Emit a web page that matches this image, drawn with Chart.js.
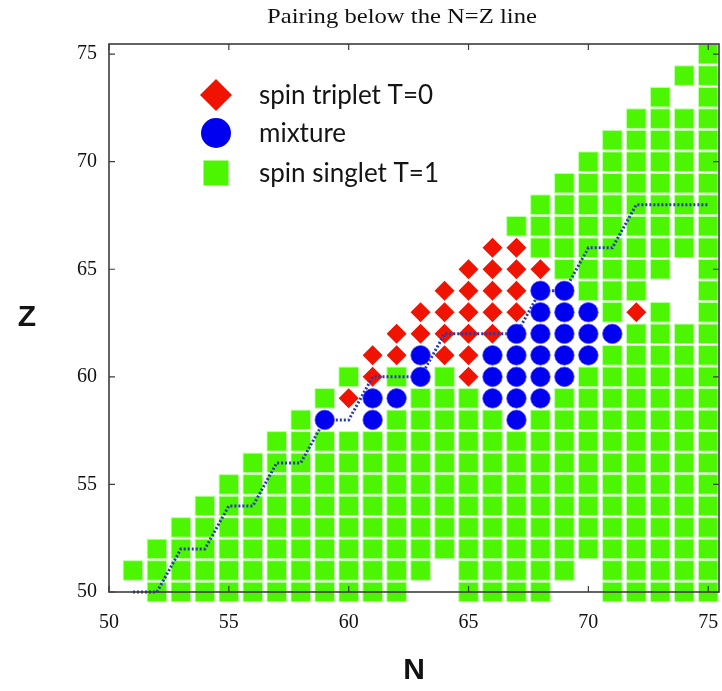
<!DOCTYPE html>
<html>
<head>
<meta charset="utf-8">
<script src="https://cdn.jsdelivr.net/npm/chart.js@4.4.0/dist/chart.umd.min.js"></script>
<style>
  html, body { margin: 0; padding: 0; background: #fff; }
  #wrap { width: 722px; height: 691px; }
</style>
</head>
<body>
<div id="wrap"><canvas id="pairing" width="722" height="691"></canvas></div>
<script>
// axis ticks
const xTicks = [50, 55, 60, 65, 70, 75];
const yTicks = [50, 55, 60, 65, 70, 75];

// spin triplet T=0 (red diamonds), [N, Z]
const tripletCells = [
  [60, 59],
  [61, 60], [65, 60],
  [61, 61], [62, 61], [64, 61], [65, 61],
  [62, 62], [63, 62], [64, 62], [65, 62], [66, 62],
  [63, 63], [64, 63], [65, 63], [66, 63], [67, 63], [72, 63],
  [64, 64], [65, 64], [66, 64], [67, 64],
  [65, 65], [66, 65], [67, 65], [68, 65],
  [66, 66], [67, 66]
];

// mixture (blue circles), [N, Z]
const mixtureCells = [
  [59, 58], [61, 58], [67, 58],
  [61, 59], [62, 59], [66, 59], [67, 59], [68, 59],
  [63, 60], [66, 60], [67, 60], [68, 60], [69, 60],
  [63, 61], [66, 61], [67, 61], [68, 61], [69, 61], [70, 61],
  [67, 62], [68, 62], [69, 62], [70, 62], [71, 62],
  [68, 63], [69, 63], [70, 63],
  [68, 64], [69, 64]
];

// spin singlet T=1 (green squares): runs of squares along each row, [Z, first N, last N]
const singletRuns = [
  [50, 52, 62], [50, 65, 68], [50, 71, 75],
  [51, 51, 63], [51, 65, 69], [51, 71, 75],
  [52, 52, 75],
  [53, 53, 75],
  [54, 54, 75],
  [55, 55, 75],
  [56, 56, 75],
  [57, 57, 75],
  [58, 58, 58], [58, 62, 66], [58, 68, 75],
  [59, 59, 59], [59, 63, 65], [59, 69, 75],
  [60, 60, 60], [60, 62, 62], [60, 64, 64], [60, 70, 75],
  [61, 71, 75],
  [62, 72, 75],
  [63, 71, 71], [63, 73, 73], [63, 75, 75],
  [64, 70, 72], [64, 75, 75],
  [65, 69, 73], [65, 75, 75],
  [66, 68, 75],
  [67, 67, 75],
  [68, 68, 75],
  [69, 69, 75],
  [70, 70, 75],
  [71, 71, 75],
  [72, 72, 75],
  [73, 73, 73], [73, 75, 75],
  [74, 74, 75],
  [75, 75, 75]
];

// dotted staircase line
const lineN = [51, 52, 53, 54, 55, 56, 57, 58, 59, 60, 61, 62, 63, 64, 65, 66, 67, 68, 69, 70, 71, 72, 73, 74, 75];
const lineZ = [50, 50, 52, 52, 54, 54, 56, 56, 58, 58, 60, 60, 60, 62, 62, 62, 62, 64, 64, 66, 66, 68, 68, 68, 68];

const legendItems = ['spin triplet T=0', 'mixture', 'spin singlet T=1'];
const chartTitle = 'Pairing below the N=Z line';

const GREEN = '#4cf500';
const RED = '#f01400';
const BLUE = '#0000f0';

const singletPts = [];
singletRuns.forEach(([z, a, b]) => {
  for (let n = a; n <= b; n++) singletPts.push({x: n, y: z});
});
const tripletPts = tripletCells.map(([n, z]) => ({x: n, y: z}));
const mixturePts = mixtureCells.map(([n, z]) => ({x: n, y: z}));
const linePts = lineN.map((n, i) => ({x: n, y: lineZ[i]}));

// frame with inward ticks, drawn over the marks
const framePlugin = {
  id: 'frame',
  afterDatasetsDraw(chart) {
    const {ctx, chartArea: a, scales: {x, y}} = chart;
    ctx.save();
    ctx.strokeStyle = '#3c3c3c';
    ctx.lineWidth = 1.6;
    ctx.strokeRect(a.left, a.top, a.right - a.left, a.bottom - a.top);
    ctx.lineWidth = 1.2;
    ctx.beginPath();
    xTicks.forEach(v => {
      const px = x.getPixelForValue(v);
      ctx.moveTo(px, a.bottom); ctx.lineTo(px, a.bottom - 6);
      ctx.moveTo(px, a.top); ctx.lineTo(px, a.top + 6);
    });
    yTicks.forEach(v => {
      const py = y.getPixelForValue(v);
      ctx.moveTo(a.left, py); ctx.lineTo(a.left + 6, py);
      ctx.moveTo(a.right, py); ctx.lineTo(a.right - 6, py);
    });
    ctx.stroke();
    ctx.restore();
  }
};

// title, legend inside the plot, upright Z label
const labelsPlugin = {
  id: 'labels',
  afterDraw(chart) {
    const ctx = chart.ctx;
    const mx = 216, tx = 259;
    const rows = [95, 133, 173];
    ctx.save();
    // title is slightly stretched sideways, like the source figure
    ctx.save();
    ctx.translate(402, 17);
    ctx.scale(1.12, 1);
    ctx.fillStyle = '#111';
    ctx.font = '22px "Liberation Serif"';
    ctx.textAlign = 'center';
    ctx.textBaseline = 'middle';
    ctx.fillText(chartTitle, 0, 0);
    ctx.restore();

    // diamond
    ctx.fillStyle = RED;
    ctx.beginPath();
    ctx.moveTo(mx, rows[0] - 16); ctx.lineTo(mx + 16, rows[0]);
    ctx.lineTo(mx, rows[0] + 16); ctx.lineTo(mx - 16, rows[0]);
    ctx.closePath(); ctx.fill();
    // circle
    ctx.fillStyle = BLUE;
    ctx.beginPath();
    ctx.arc(mx, rows[1], 15, 0, Math.PI * 2);
    ctx.fill();
    // square
    ctx.fillStyle = GREEN;
    ctx.fillRect(mx - 12.5, rows[2] - 12.5, 25, 25);

    ctx.fillStyle = '#141414';
    ctx.font = '26px Lato';
    ctx.textBaseline = 'middle';
    ctx.textAlign = 'left';
    legendItems.forEach((t, i) => ctx.fillText(t, tx, rows[i] + 1));

    ctx.font = 'bold 30px "Liberation Sans"';
    ctx.textAlign = 'center';
    ctx.fillText('Z', 27, 318);
    ctx.restore();
  }
};

// stop the scales from reserving room for the end labels
function noPad(s) {
  s.paddingLeft = 0; s.paddingRight = 0; s.paddingTop = 0; s.paddingBottom = 0;
}

const chart = new Chart(document.getElementById('pairing').getContext('2d'), {
  type: 'scatter',
  data: {
    datasets: [
      {
        label: 'mixture',
        data: mixturePts,
        pointStyle: 'circle',
        pointRadius: 9.8,
        backgroundColor: BLUE,
        borderColor: 'rgba(90,90,255,0.9)',
        borderWidth: 0.8,
        clip: false,
        order: 0
      },
      {
        label: 'staircase',
        data: linePts,
        showLine: true,
        pointRadius: 0,
        borderColor: '#2a36b8',
        borderWidth: 3,
        borderDash: [2, 2],
        fill: false,
        clip: false,
        order: 1
      },
      {
        label: 'spin triplet T=0',
        data: tripletPts,
        pointStyle: 'rectRot',
        pointRadius: 10,
        backgroundColor: RED,
        borderColor: RED,
        borderWidth: 0,
        clip: false,
        order: 2
      },
      {
        label: 'spin singlet T=1',
        data: singletPts,
        pointStyle: 'rect',
        pointRadius: 13.8,
        backgroundColor: GREEN,
        borderColor: 'rgba(190,255,170,0.95)',
        borderWidth: 1,
        clip: false,
        order: 3
      }
    ]
  },
  options: {
    responsive: false,
    devicePixelRatio: 1,
    animation: false,
    events: [],
    layout: { autoPadding: false, padding: { top: 44, right: 3, left: 0, bottom: 0 } },
    plugins: {
      legend: { display: false },
      tooltip: { enabled: false },
      title: { display: false }
    },
    scales: {
      x: {
        type: 'linear',
        min: 50,
        max: 75.45,
        afterBuildTicks(s) { s.ticks = xTicks.map(v => ({value: v})); },
        afterFit(s) { s.height = 99; noPad(s); },
        grid: { display: false, drawTicks: false },
        border: { display: false },
        ticks: {
          padding: 19,
          color: '#111',
          font: { family: '"Liberation Serif"', size: 20 }
        },
        title: {
          display: true,
          text: 'N',
          color: '#111',
          font: { family: '"Liberation Sans"', size: 30, weight: 'bold' },
          padding: { top: 0, bottom: 2 }
        }
      },
      y: {
        type: 'linear',
        min: 50,
        max: 75.47,
        afterBuildTicks(s) { s.ticks = yTicks.map(v => ({value: v})); },
        afterFit(s) { s.width = 109; noPad(s); },
        grid: { display: false, drawTicks: false },
        border: { display: false },
        ticks: {
          padding: 12,
          color: '#111',
          font: { family: '"Liberation Serif"', size: 20 }
        }
      }
    }
  },
  plugins: [framePlugin, labelsPlugin]
});
</script>
</body>
</html>
